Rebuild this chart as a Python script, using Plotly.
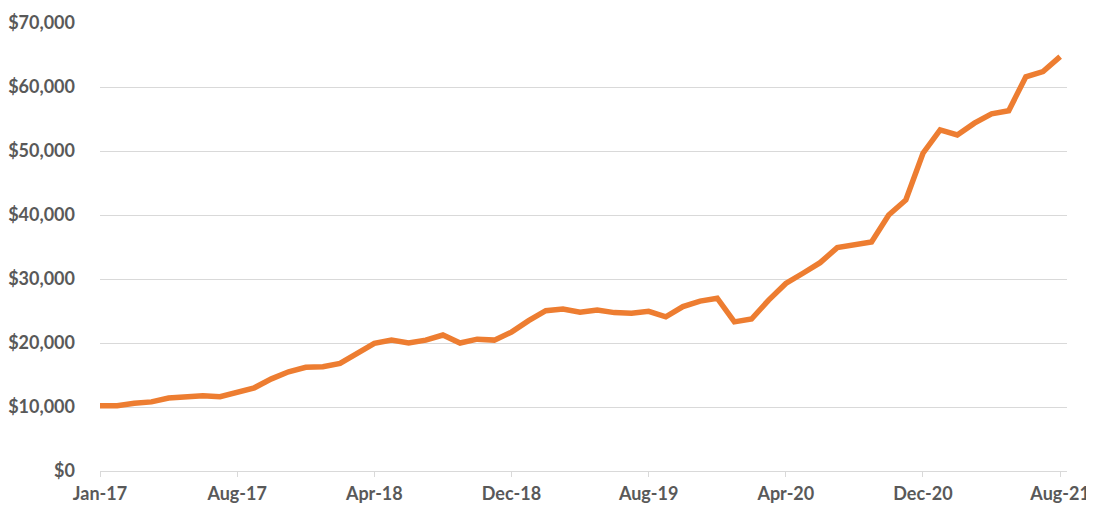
import pandas as pd
import plotly.graph_objects as go

# Data: one observation every 30 days starting 2017-01-01
dates = pd.date_range(start="2017-01-01", periods=57, freq="30D")
values = [
    10200, 10200, 10600, 10800, 11400, 11600, 11750, 11600, 12350, 13000,
    14400, 15500, 16200, 16300, 16800, 18500, 19950, 20450, 20000, 20450,
    21250, 20000, 20600, 20450, 21700, 23500, 25050, 25300, 24800, 25150,
    24750, 24650, 24950, 24100, 25700, 26550, 27000, 23300, 23750, 26700,
    29300, 30900, 32550, 34900, 35300, 35800, 40000, 42350, 49650, 53300,
    52500, 54350, 55800, 56300, 61600, 62400, 64750,
]
tick_dates = list(dates[::8])
tick_labels = ["Jan-17", "Aug-17", "Apr-18", "Dec-18", "Aug-19", "Apr-20", "Dec-20", "Aug-21"]
y_ticks = [0, 10000, 20000, 30000, 40000, 50000, 60000, 70000]
y_labels = ["$0", "$10,000", "$20,000", "$30,000", "$40,000", "$50,000", "$60,000", "$70,000"]

fig = go.Figure()
fig.add_trace(go.Scatter(
    x=dates, y=values, mode="lines",
    line=dict(color="#ED7D31", width=5.5, shape="linear"),
    hoverinfo="x+y", showlegend=False,
))

x_end = dates[-1] + pd.Timedelta(days=12)
font = dict(family="Lato", size=18, color="#595959")

# page body has an 8px default margin, so the figure is offset by 8px
fig.update_layout(
    width=1086, height=504,
    margin=dict(l=92, r=27, t=15, b=41),
    paper_bgcolor="white", plot_bgcolor="white",
    font=font,
    xaxis=dict(
        type="date", range=[dates[0], x_end],
        tickvals=tick_dates, ticktext=tick_labels,
        showgrid=False, zeroline=False, automargin=False,
        showline=True, linecolor="#D9D9D9", linewidth=1,
        ticks="outside", ticklen=5, tickcolor="#D9D9D9", tickwidth=1,
        tickfont=dict(family="Lato", size=18, color="#595959", weight="bold"),
        ticklabelstandoff=1, ticklabeloverflow="allow",
    ),
    yaxis=dict(
        range=[0, 70000], automargin=False,
        tickvals=y_ticks, ticktext=y_labels,
        showgrid=True, gridcolor="#D9D9D9", gridwidth=1,
        zeroline=False, showline=False, ticks="",
        tickfont=dict(family="Lato", size=18, color="#595959", weight="bold"),
        ticklabelstandoff=24,
    ),
)

fig.write_html("out.html")
